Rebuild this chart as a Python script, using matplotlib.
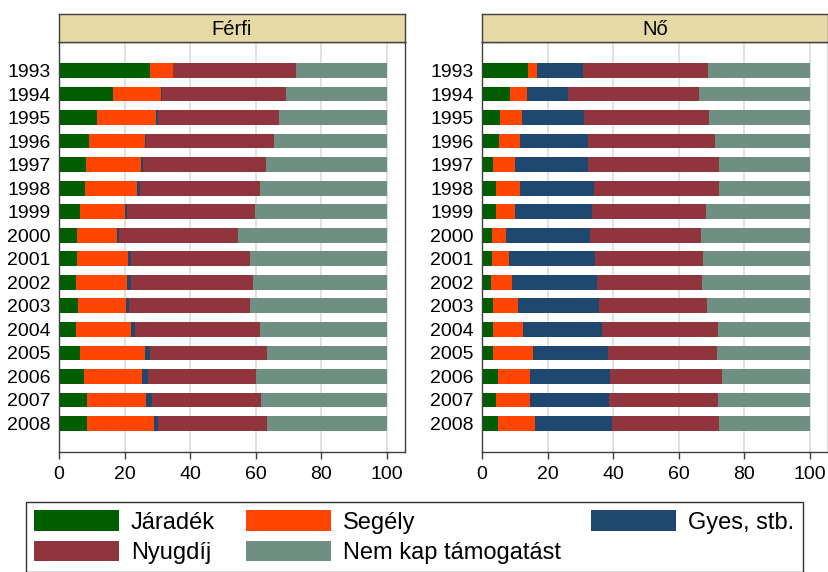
import matplotlib
matplotlib.use("Agg")
import matplotlib.pyplot as plt
import numpy as np

plt.rcParams["font.family"] = ["Liberation Sans", "DejaVu Sans"]

years = [str(y) for y in range(1993, 2009)]
series = ["Járadék", "Segély", "Gyes, stb.", "Nyugdíj", "Nem kap támogatást"]
colors = ["#005E00", "#FF4500", "#1E4870", "#90353E", "#6F8F82"]

# shares (%) per year
ferfi_jaradek = [27.9, 16.5, 11.6, 9.1, 8.1, 7.8, 6.4, 5.6, 5.6, 5.1, 5.8, 5.1, 6.3, 7.5, 8.6, 8.4]
ferfi_segely = [6.9, 14.6, 18.0, 17.1, 16.9, 16.0, 13.8, 12.0, 15.4, 15.6, 14.6, 17.0, 20.0, 17.9, 18.0, 20.7]
ferfi_gyes = [0.0, 0.2, 0.6, 0.3, 0.6, 1.0, 0.6, 0.7, 1.0, 1.2, 1.0, 1.1, 1.4, 1.9, 1.7, 1.0]
ferfi_nyugdij = [37.5, 38.0, 36.9, 39.0, 37.5, 36.5, 39.0, 36.4, 36.2, 37.3, 36.8, 38.1, 35.7, 32.7, 33.2, 33.5]
ferfi_nincs = [27.7, 30.7, 32.9, 34.5, 36.9, 38.7, 40.2, 45.3, 41.8, 40.8, 41.8, 38.7, 36.6, 40.0, 38.5, 36.4]

no_jaradek = [14.1, 8.5, 5.6, 5.1, 3.3, 4.2, 4.3, 2.9, 3.0, 2.6, 3.5, 3.5, 3.4, 4.9, 4.2, 4.9]
no_segely = [2.6, 5.2, 6.6, 6.6, 6.7, 7.5, 5.8, 4.4, 5.2, 6.6, 7.5, 8.9, 12.3, 9.6, 10.3, 11.3]
no_gyes = [14.0, 12.4, 19.0, 20.5, 22.2, 22.6, 23.5, 25.7, 26.3, 25.9, 24.8, 24.1, 22.9, 24.6, 24.2, 23.6]
no_nyugdij = [38.4, 40.0, 38.2, 38.8, 40.1, 38.0, 34.8, 33.8, 32.8, 32.0, 32.8, 35.4, 33.0, 34.0, 33.2, 32.5]
no_nincs = [30.9, 33.9, 30.6, 29.0, 27.7, 27.7, 31.6, 33.2, 32.7, 32.9, 31.4, 28.1, 28.4, 26.9, 28.1, 27.7]

panels = [
    ("Férfi", [ferfi_jaradek, ferfi_segely, ferfi_gyes, ferfi_nyugdij, ferfi_nincs]),
    ("Nő", [no_jaradek, no_segely, no_gyes, no_nyugdij, no_nincs]),
]

W, H = 829, 572
fig = plt.figure(figsize=(W / 100, H / 100), dpi=100)

spine_col = "#404040"
lefts = [59, 482]
for (title, data), left in zip(panels, lefts):
    ax = fig.add_axes([left / W, 1 - 452 / H, 346 / W, 410 / H])
    y = np.arange(len(years))
    start = np.zeros(len(years))
    for vals, col, name in zip(data, colors, series):
        ax.barh(y, vals, left=start, height=0.62, color=col, label=name, zorder=2)
        start += np.array(vals)
    ax.set_xlim(0, 105.6)
    ax.set_ylim(len(years) - 1 + 1.22, -1.22)
    ax.set_yticks(y)
    ax.set_yticklabels(years)
    ax.set_xticks([0, 20, 40, 60, 80, 100])
    ax.tick_params(axis="y", length=0, pad=6, labelsize=14)
    ax.tick_params(axis="x", length=5, width=1, color=spine_col, pad=5, labelsize=14)
    ax.grid(axis="x", color="#DCDCDC", linewidth=1.2, zorder=0)
    for s in ax.spines.values():
        s.set_color(spine_col)
        s.set_linewidth(1.0)

    # strip with panel title
    sax = fig.add_axes([left / W, 1 - 42 / H, 346 / W, 28 / H])
    sax.set_facecolor("#E5D9A6")
    sax.set_xticks([])
    sax.set_yticks([])
    for s in sax.spines.values():
        s.set_color(spine_col)
        s.set_linewidth(1.0)
    sax.text(0.5, 0.45, title, ha="center", va="center", fontsize=14.5)

handles, labels = ax.get_legend_handles_labels()
order = [0, 3, 1, 4, 2]
leg = fig.legend([handles[i] for i in order], [labels[i] for i in order],
                 ncol=3, loc="upper left", bbox_to_anchor=(26 / W, 1 - 502 / H),
                 fontsize=17, frameon=True, fancybox=False, edgecolor="black",
                 handlelength=3.6, handleheight=0.95, handletextpad=0.5,
                 columnspacing=1.3, labelspacing=0.3, borderpad=0.35,
                 borderaxespad=0)
leg.get_frame().set_linewidth(1.0)

fig.savefig("out.png", dpi=100)
